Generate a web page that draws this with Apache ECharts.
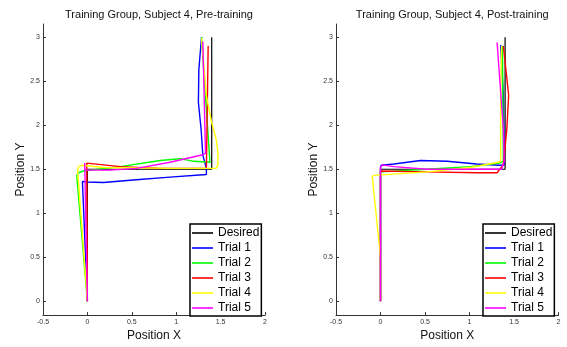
<!DOCTYPE html>
<html><head><meta charset="utf-8">
<script src="https://cdn.jsdelivr.net/npm/echarts@6/dist/echarts.min.js"></script>
<style>html,body{margin:0;padding:0;background:#fff}#c{width:567px;height:347px}</style>
</head><body><div id="c"></div>
<script>
var seriesNames = ['Desired','Trial 1','Trial 2','Trial 3','Trial 4','Trial 5'];
var seriesColors = ['#000000','#0000ff','#00ff00','#ff0000','#ffff00','#ff00ff'];
var titles = ['Training Group, Subject 4, Pre-training','Training Group, Subject 4, Post-training'];
var xTicks = [-0.5,0,0.5,1,1.5,2];
var yTicks = [0,0.5,1,1.5,2,2.5,3];

var desired = [[0,0],[0,1.5],[1.4,1.5],[1.4,3]];

var preTrial1 = [[0,0],[-0.056,1.36],[0,1.355],[0.18,1.35],[0.55,1.38],[0.93,1.41],[1.34,1.44],[1.35,1.45],[1.34,1.51],[1.30,1.66],[1.28,1.96],[1.25,2.26],[1.255,2.63],[1.285,3.0]];
var preTrial2 = [[0,0],[-0.12,1.43],[-0.1,1.46],[-0.045,1.48],[0.37,1.53],[0.82,1.60],[1.04,1.62],[1.2,1.59],[1.38,1.58],[1.38,1.6],[1.285,3.0]];
var preTrial3 = [[0,0],[-0.007,1.57],[0.37,1.53],[0.82,1.51],[1.34,1.51],[1.35,1.51],[1.36,2.9]];
var preTrial4 = [[0,0],[-0.11,1.48],[-0.1,1.53],[-0.06,1.545],[0.18,1.52],[0.93,1.51],[1.45,1.51],[1.47,1.55],[1.47,1.695],[1.45,1.84],[1.40,2.03],[1.34,2.33],[1.285,2.99]];
var preTrial5 = [[0,0],[-0.02,1.0],[-0.03,1.57],[-0.03,1.50],[0,1.49],[0.255,1.49],[0.555,1.51],[0.93,1.58],[1.30,1.665],[1.33,1.68],[1.33,1.70],[1.30,2.95]];

var postTrial1 = [[0,0],[0,1.52],[0.008,1.545],[0.15,1.56],[0.45,1.60],[0.75,1.59],[1.08,1.56],[1.34,1.545],[1.39,1.55],[1.38,2.34],[1.35,2.91]];
var postTrial2 = [[0,0],[0,1.47],[0.52,1.50],[1.01,1.53],[1.34,1.57],[1.38,1.59],[1.37,2.9]];
var postTrial3 = [[0,0],[0,1.48],[0.52,1.47],[1.08,1.46],[1.31,1.46],[1.34,1.50],[1.38,1.55],[1.42,1.965],[1.44,2.34],[1.42,2.53],[1.38,2.9]];
var postTrial4 = [[0,0],[0,0.5],[-0.093,1.42],[-0.07,1.43],[0.52,1.47],[1.01,1.52],[1.325,1.58],[1.35,1.59],[1.35,2.3],[1.36,2.9]];
var postTrial5 = [[0,0],[0,1.52],[0.02,1.55],[0.15,1.53],[0.52,1.50],[1.08,1.50],[1.36,1.50],[1.38,1.50],[1.39,1.59],[1.38,1.965],[1.31,2.94]];

var panels = [
  [desired, preTrial1, preTrial2, preTrial3, preTrial4, preTrial5],
  [desired, postTrial1, postTrial2, postTrial3, postTrial4, postTrial5]
];

var FONT = 'Liberation Sans, Arial, Helvetica, sans-serif';
var gridPos = [
  {left: 43, width: 222, top: 24, height: 294},
  {left: 336, width: 222.5, top: 24, height: 294}
];
var legendPos = [{left: 190, top: 224}, {left: 483, top: 224}];

var option = {
  animation: false,
  backgroundColor: '#fff',
  title: titles.map(function (t, i) {
    return {text: t, left: gridPos[i].left + gridPos[i].width / 2, top: 4, textAlign: 'center',
      textStyle: {fontFamily: FONT, fontSize: 11, fontWeight: 'normal', color: '#111'}};
  }),
  grid: gridPos.map(function (g) { return {left: g.left, width: g.width, top: g.top, height: g.height, containLabel: false}; }),
  xAxis: gridPos.map(function (g, i) {
    return {type: 'value', gridIndex: i, min: -0.5, max: 2, interval: 0.5,
      name: 'Position X', nameLocation: 'middle', nameGap: 11,
      nameTextStyle: {fontFamily: FONT, fontSize: 12, color: '#111'},
      axisLine: {show: true, onZero: false, lineStyle: {color: '#333', width: 1}},
      axisTick: {show: true, inside: true, length: 3, lineStyle: {color: '#333'}},
      axisLabel: {fontFamily: FONT, fontSize: 7, color: '#333', margin: 3},
      splitLine: {show: false}};
  }),
  yAxis: gridPos.map(function (g, i) {
    return {type: 'value', gridIndex: i, min: -0.157, max: 3.15,
      name: 'Position Y', nameLocation: 'middle', nameGap: 16, nameRotate: 90,
      nameTextStyle: {fontFamily: FONT, fontSize: 12, color: '#111'},
      axisLine: {show: true, onZero: false, lineStyle: {color: '#333', width: 1}},
      axisTick: {show: true, inside: true, length: 3, customValues: yTicks, lineStyle: {color: '#333'}},
      axisLabel: {fontFamily: FONT, fontSize: 7, color: '#333', margin: 3, customValues: yTicks},
      splitLine: {show: false}};
  }),
  legend: legendPos.map(function (p) {
    return {orient: 'vertical', left: p.left, top: p.top, data: seriesNames, icon: 'rect',
      itemWidth: 21, itemHeight: 1.6, itemGap: 3, itemTextGap: 4, padding: [3, 2, 2, 2],
      borderColor: '#000', borderWidth: 1.5, backgroundColor: '#fff', selectedMode: false,
      textStyle: {fontFamily: FONT, fontSize: 12, color: '#000', lineHeight: 12}, z: 10};
  }),
  series: []
};

panels.forEach(function (traj, pi) {
  traj.forEach(function (d, si) {
    option.series.push({
      type: 'line', name: seriesNames[si], xAxisIndex: pi, yAxisIndex: pi,
      data: d, symbol: 'none', showSymbol: false, smooth: false,
      color: seriesColors[si],
      itemStyle: {color: seriesColors[si]},
      lineStyle: {color: seriesColors[si], width: si === 0 ? 1.2 : 1.4},
      z: 2 + si
    });
  });
});

var chart = echarts.init(document.getElementById('c'), null, {renderer: 'canvas'});
chart.setOption(option);
</script>
</body></html>
